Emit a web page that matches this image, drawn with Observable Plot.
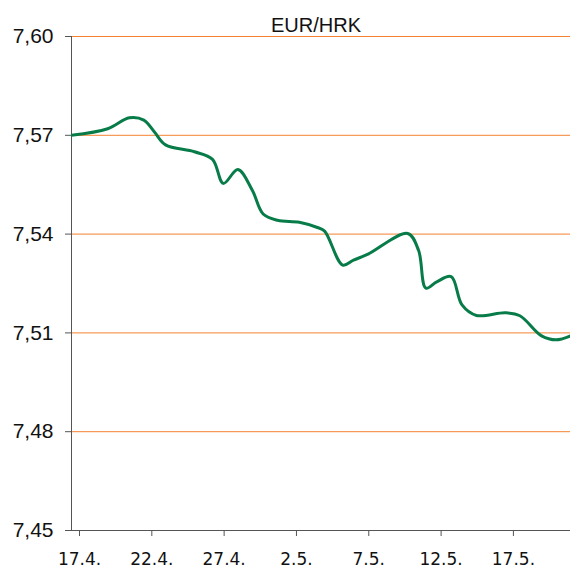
<!DOCTYPE html>
<html>
<head>
<meta charset="utf-8">
<script src="https://cdn.jsdelivr.net/npm/d3@7"></script>
<script src="https://cdn.jsdelivr.net/npm/@observablehq/plot@0.6"></script>
<style>
  html, body { margin: 0; padding: 0; background: #fff; overflow: hidden; }
</style>
</head>
<body>
<div id="chart"></div>
<script>
// Data (EUR/HRK exchange rate)
const dates = [
  "2015-04-17T00:00", "2015-04-19T12:00", "2015-04-21T00:00", "2015-04-22T00:00",
  "2015-04-22T18:00", "2015-04-23T12:00", "2015-04-25T12:00", "2015-04-26T18:00",
  "2015-04-27T12:00", "2015-04-28T12:00", "2015-04-29T12:00", "2015-04-30T06:00",
  "2015-05-01T06:00", "2015-05-02T18:00", "2015-05-04T00:00", "2015-05-04T12:00",
  "2015-05-05T18:00", "2015-05-06T12:00", "2015-05-07T12:00", "2015-05-10T06:00",
  "2015-05-11T00:00", "2015-05-11T12:00", "2015-05-12T06:00", "2015-05-13T06:00",
  "2015-05-14T00:00", "2015-05-15T00:00", "2015-05-17T00:00", "2015-05-18T00:00",
  "2015-05-19T12:00", "2015-05-20T12:00", "2015-05-21T12:00"
];
const rates = [
  7.5700, 7.5720, 7.5753, 7.5746,
  7.5709, 7.5671, 7.5650, 7.5627,
  7.5554, 7.5596, 7.5533, 7.5461,
  7.5442, 7.5436, 7.5420, 7.5409,
  7.5306, 7.5321, 7.5339, 7.5402,
  7.5350, 7.5236, 7.5255, 7.5271,
  7.5185, 7.5153, 7.5161, 7.5152,
  7.5091, 7.5079, 7.5091
];
const xTickLabels = ["2015-04-17", "2015-04-22", "2015-04-27", "2015-05-02", "2015-05-07", "2015-05-12", "2015-05-17"];
const yTicks = [7.45, 7.48, 7.51, 7.54, 7.57, 7.60];
const title = "EUR/HRK";
const xStart = "2015-04-17T00:00";
const xEnd = "2015-05-21T12:00";

const data = dates.map((d, i) => ({date: new Date(d), rate: rates[i]}));
const xTicks = xTickLabels.map(d => new Date(d + "T00:00"));
const fmtX = d => `${d.getDate()}.${d.getMonth() + 1}.`;
const fmtY = v => v.toFixed(2).replace(".", ",");

const chart = Plot.plot({
  width: 570,
  height: 569,
  marginLeft: 71,
  marginRight: 0,
  marginTop: 36,
  marginBottom: 39,
  style: {fontFamily: "'Liberation Sans', Arial, sans-serif", background: "#fff", overflow: "visible"},
  x: {type: "time", domain: [new Date(xStart), new Date(xEnd)]},
  y: {domain: [7.45, 7.60]},
  marks: [
    Plot.ruleY(yTicks.slice(1), {stroke: "#f5822f", strokeWidth: 1}),
    Plot.ruleY([7.45], {stroke: "#555", strokeWidth: 1}),
    Plot.ruleX([new Date(xStart)], {y1: 7.45, y2: 7.60, stroke: "#555", strokeWidth: 1}),
    Plot.axisY({
      ticks: yTicks, tickFormat: fmtY, tickSize: 6, tickPadding: 12,
      fontSize: 21, stroke: "#555", fill: "#111", label: null
    }),
    Plot.axisX({
      ticks: xTicks, tickFormat: fmtX, tickSize: 6, tickPadding: 16,
      fontSize: 17, fontFamily: "'DejaVu Sans', sans-serif", dx: 8,
      stroke: "#555", fill: "#111", label: null
    }),
    Plot.line(data, {
      x: "date", y: "rate", stroke: "#087c48", strokeWidth: 3,
      curve: "catmull-rom", clip: true
    }),
    Plot.text([title], {
      frameAnchor: "top", lineAnchor: "bottom", dy: -4.5, dx: -5,
      fontSize: 20, fill: "#111", fontFamily: "'Liberation Sans', Arial, sans-serif"
    })
  ]
});
document.getElementById("chart").appendChild(chart);
</script>
</body>
</html>
